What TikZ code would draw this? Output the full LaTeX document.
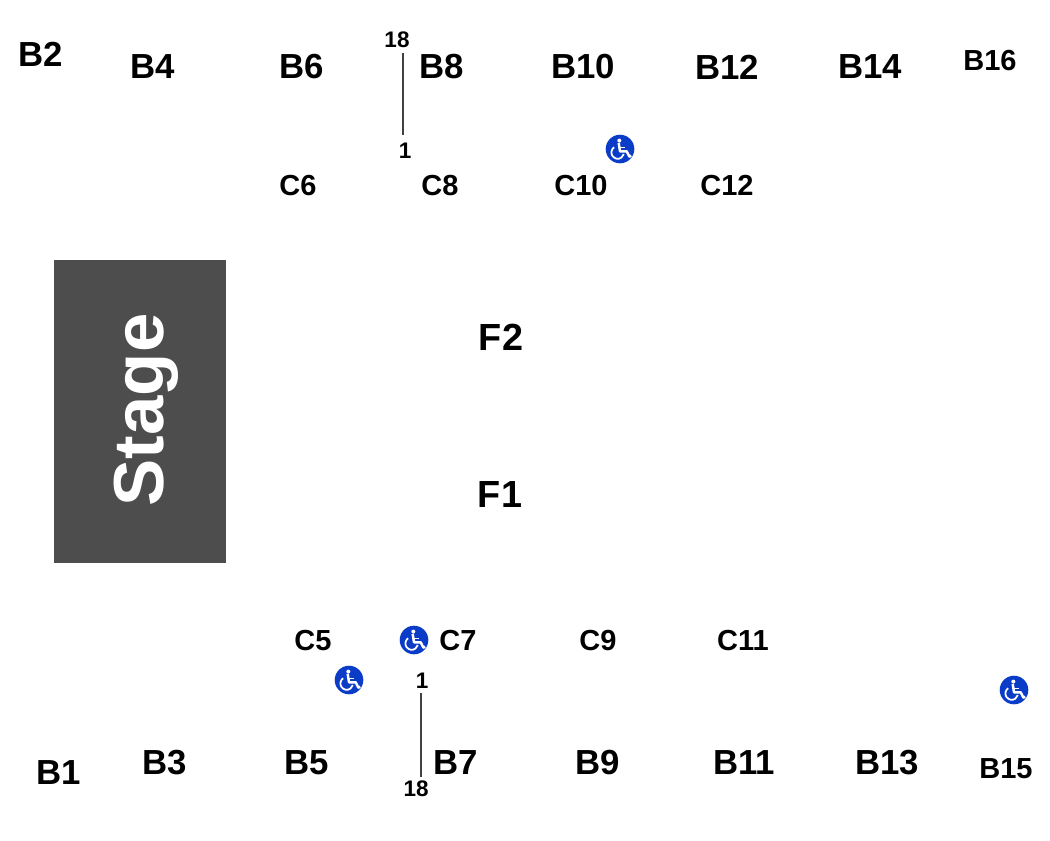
\documentclass[tikz,border=0pt]{standalone}
\usepackage{fontspec}
\setmainfont{Liberation Sans}
\definecolor{stagegrey}{HTML}{4D4D4D}
\definecolor{accessblue}{HTML}{0B3CC8}
\tikzset{
  block/.style={font=\bfseries\fontsize{19.8}{20}\selectfont,inner sep=0pt},
  cblock/.style={font=\bfseries\fontsize{16.5}{17}\selectfont,inner sep=0pt},
  edge/.style={font=\bfseries\fontsize{16.5}{17}\selectfont,inner sep=0pt},
  floor/.style={font=\bfseries\fontsize{21.5}{22}\selectfont,inner sep=0pt},
  rownum/.style={font=\bfseries\fontsize{12.8}{13}\selectfont,inner sep=0pt},
  access/.pic={
    \fill[accessblue] (0,0) circle (14.3);
    \fill[white] (-0.7,-8.4) circle (2);
    \draw[white,line width=1.4pt,line join=round] (-1.3,-6) -- (0,2.3) -- (6.7,2.3) -- (9.3,7.6) -- (11.3,6.8);
    \draw[white,line width=1pt] (-0.6,-1.6) -- (5,-1.6);
    \draw[white,line width=1pt] (-5.9,-1.7) arc[start angle=-125,end angle=-345,radius=6.3];
  }
}
\begin{document}
\begin{tikzpicture}[x=0.02cm,y=-0.02cm]
  \useasboundingbox (0,0) rectangle (1050,840);
  % stage
  \fill[stagegrey] (54,260) rectangle (226,563);
  \node[rotate=90,text=white,font=\bfseries\fontsize{40.3}{40}\selectfont,inner sep=0pt] (stage) at (146,410) {Stage};
  % top row
  \node[block] (b2) at (41,54) {B2};
  \node[block] (b4) at (153,67) {B4};
  \node[block] (b6) at (302,67) {B6};
  \node[block] (b8) at (442,67) {B8};
  \node[block] (b10) at (583,67) {B10};
  \node[block] (b12) at (727,67) {B12};
  \node[block] (b14) at (870,67) {B14};
  \node[edge] (b16) at (990,61) {B16};
  \node[cblock] (c6) at (298,186) {C6};
  \node[cblock] (c8) at (440,186) {C8};
  \node[cblock] (c10) at (581,186) {C10};
  \node[cblock] (c12) at (727,186) {C12};
  % floor
  \node[floor] (f2) at (501,337) {F2};
  \node[floor] (f1) at (500,494) {F1};
  % bottom row
  \node[cblock] (c5) at (313,640) {C5};
  \node[cblock] (c7) at (458,640) {C7};
  \node[cblock] (c9) at (598,640) {C9};
  \node[cblock] (c11) at (743,640) {C11};
  \node[block] (b1) at (59,773) {B1};
  \node[block] (b3) at (165,763) {B3};
  \node[block] (b5) at (307,763) {B5};
  \node[block] (b7) at (456,763) {B7};
  \node[block] (b9) at (598,763) {B9};
  \node[block] (b11) at (744,763) {B11};
  \node[block] (b13) at (887,763) {B13};
  \node[edge] (b15) at (1006,769) {B15};
  % row numbers
  \node[rownum] (top18) at (397,40) {18};
  \node[rownum] (top1) at (405,151) {1};
  \node[rownum] (bot1) at (422,681) {1};
  \node[rownum] (bot18) at (416,789) {18};
  \coordinate (topa) at (403,53);
  \coordinate (topb) at (403,135);
  \coordinate (bota) at (421,693);
  \coordinate (botb) at (421,777);
  \draw[line width=0.6pt,black!75] (topa) -- (topb);
  \draw[line width=0.6pt,black!75] (bota) -- (botb);
  % wheelchair places
  \pic at (620,149) {access};
  \pic at (414,640) {access};
  \pic at (349,680) {access};
  \pic at (1014,690) {access};
\end{tikzpicture}
\end{document}
